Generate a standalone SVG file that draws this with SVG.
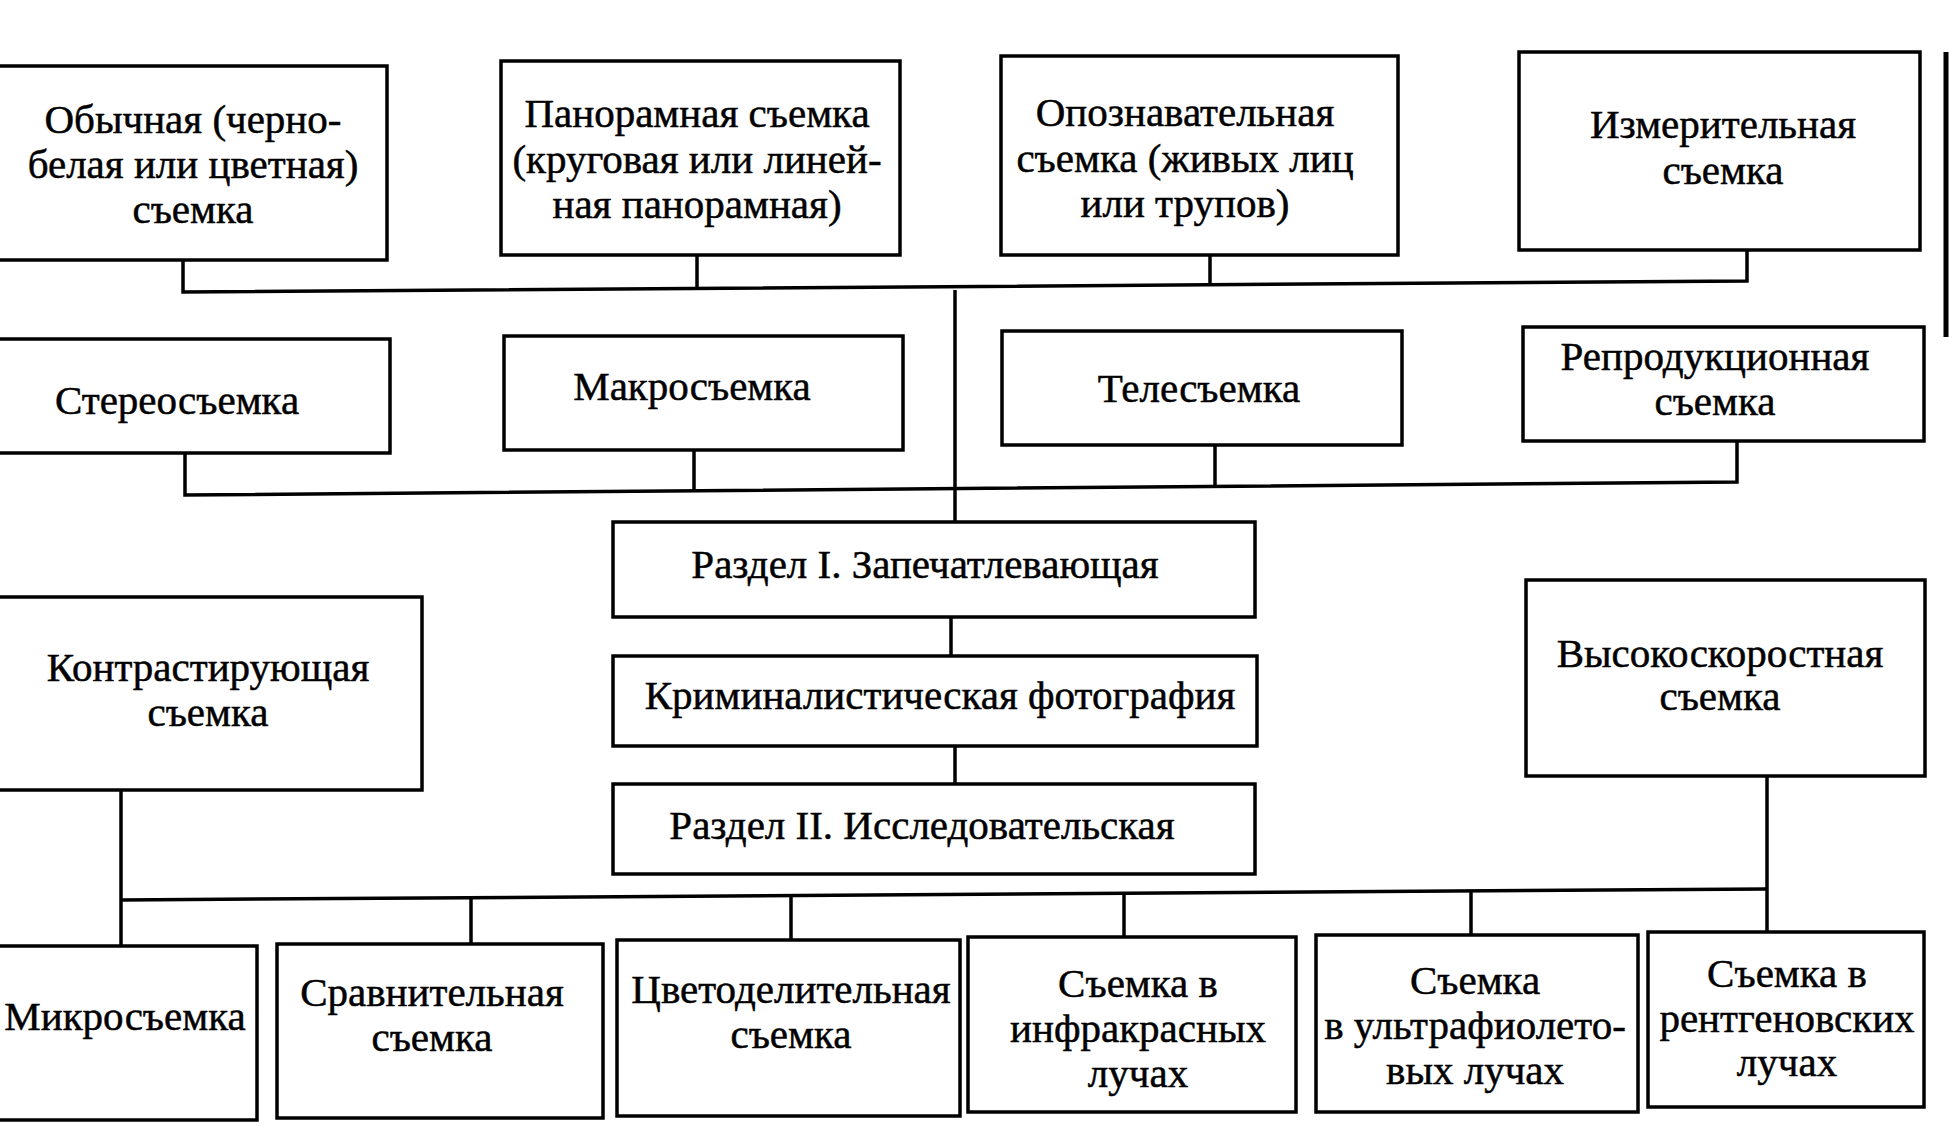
<svg xmlns="http://www.w3.org/2000/svg" width="1949" height="1126" viewBox="0 0 1949 1126">
<style>
.box{fill:#fff;stroke:#000;stroke-width:3.5}
.ln{fill:none;stroke:#000;stroke-width:3.5}
text{font-family:"Liberation Serif","Times New Roman",serif;font-size:41px;fill:#000;text-anchor:middle;stroke:#000;stroke-width:0.5}
</style>
<rect width="1949" height="1126" fill="#fff"/>
<g id="connectors">
<polyline class="ln" points="183,260 183,292 1747,281 1747,250"/>
<line class="ln" x1="697" y1="255" x2="697" y2="289"/>
<line class="ln" x1="1210" y1="255" x2="1210" y2="285"/>
<polyline class="ln" points="185,453 185,495 1737,482 1737,441"/>
<line class="ln" x1="694" y1="450" x2="694" y2="492"/>
<line class="ln" x1="1215" y1="445" x2="1215" y2="487"/>
<line class="ln" x1="955" y1="290" x2="955" y2="522"/>
<line class="ln" x1="951" y1="617" x2="951" y2="656"/>
<line class="ln" x1="955" y1="746" x2="955" y2="784"/>
<polyline class="ln" points="121,790 121,946"/>
<polyline class="ln" points="121,900 1767,889"/>
<polyline class="ln" points="1767,776 1767,932"/>
<line class="ln" x1="471" y1="898" x2="471" y2="944"/>
<line class="ln" x1="791" y1="896" x2="791" y2="940"/>
<line class="ln" x1="1124" y1="893" x2="1124" y2="937"/>
<line class="ln" x1="1471" y1="891" x2="1471" y2="935"/>
<line stroke="#000" stroke-width="5" x1="1946" y1="52" x2="1946" y2="337"/>
</g>
<g id="n1"><rect class="box" x="-5" y="66" width="392" height="194"/><text x="193" y="133">Обычная (черно-</text><text x="193" y="178">белая или цветная)</text><text x="193" y="223">съемка</text></g>
<g id="n2"><rect class="box" x="501" y="61" width="399" height="194"/><text x="697" y="127">Панорамная съемка</text><text x="697" y="173">(круговая или линей-</text><text x="697" y="218">ная панорамная)</text></g>
<g id="n3"><rect class="box" x="1001" y="56" width="397" height="199"/><text x="1185" y="126">Опознавательная</text><text x="1185" y="172">съемка (живых лиц</text><text x="1185" y="217">или трупов)</text></g>
<g id="n4"><rect class="box" x="1519" y="52" width="401" height="198"/><text x="1723" y="138">Измерительная</text><text x="1723" y="184">съемка</text></g>
<g id="n5"><rect class="box" x="-5" y="339" width="395" height="114"/><text x="177" y="414">Стереосъемка</text></g>
<g id="n6"><rect class="box" x="504" y="336" width="399" height="114"/><text x="692" y="400">Макросъемка</text></g>
<g id="n7"><rect class="box" x="1002" y="331" width="400" height="114"/><text x="1199" y="402">Телесъемка</text></g>
<g id="n8"><rect class="box" x="1523" y="327" width="401" height="114"/><text x="1715" y="370">Репродукционная</text><text x="1715" y="415">съемка</text></g>
<g id="n9"><rect class="box" x="613" y="522" width="642" height="95"/><text x="925" y="578">Раздел I. Запечатлевающая</text></g>
<g id="n10"><rect class="box" x="613" y="656" width="644" height="90"/><text x="940" y="709">Криминалистическая фотография</text></g>
<g id="n11"><rect class="box" x="613" y="784" width="642" height="90"/><text x="922" y="839">Раздел II. Исследовательская</text></g>
<g id="n12"><rect class="box" x="-5" y="597" width="427" height="193"/><text x="208" y="681">Контрастирующая</text><text x="208" y="726">съемка</text></g>
<g id="n13"><rect class="box" x="1526" y="580" width="399" height="196"/><text x="1720" y="667">Высокоскоростная</text><text x="1720" y="710">съемка</text></g>
<g id="n14"><rect class="box" x="-5" y="946" width="262" height="174"/><text x="125" y="1030">Микросъемка</text></g>
<g id="n15"><rect class="box" x="277" y="944" width="326" height="174"/><text x="432" y="1006">Сравнительная</text><text x="432" y="1051">съемка</text></g>
<g id="n16"><rect class="box" x="617" y="940" width="343" height="176"/><text x="791" y="1003">Цветоделительная</text><text x="791" y="1048">съемка</text></g>
<g id="n17"><rect class="box" x="968" y="937" width="328" height="175"/><text x="1138" y="997">Съемка в</text><text x="1138" y="1042">инфракрасных</text><text x="1138" y="1087">лучах</text></g>
<g id="n18"><rect class="box" x="1316" y="935" width="322" height="177"/><text x="1475" y="994">Съемка</text><text x="1475" y="1039">в ультрафиолето-</text><text x="1475" y="1084">вых лучах</text></g>
<g id="n19"><rect class="box" x="1648" y="932" width="276" height="175"/><text x="1787" y="987">Съемка в</text><text x="1787" y="1032">рентгеновских</text><text x="1787" y="1076">лучах</text></g>
</svg>
